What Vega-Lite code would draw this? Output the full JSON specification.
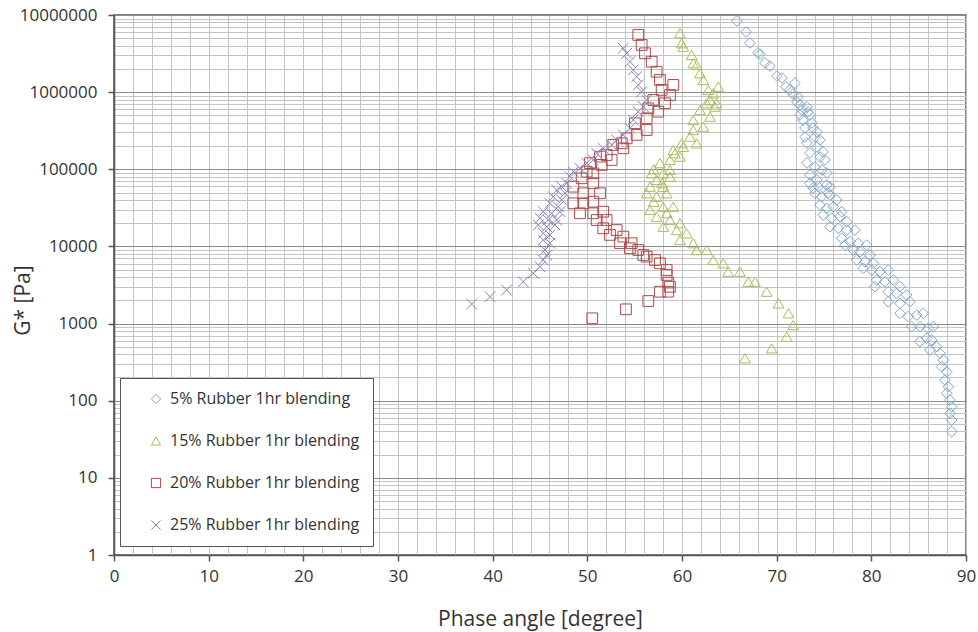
{
"$schema":"https://vega.github.io/schema/vega-lite/v6.json",
"width":852,"height":540,
"autosize":{"type":"none"},
"padding":{"left":114,"top":15,"right":12,"bottom":77},
"background":"white",
"config":{
 "font":"Open Sans",
 "view":{"stroke":"#555555","strokeWidth":1.5},
 "axis":{"labelFont":"Open Sans","titleFont":"Open Sans","labelColor":"#333333","titleColor":"#333333","titleFontWeight":"normal","domainColor":"#555555","domainWidth":1.5,"tickColor":"#555555","tickWidth":1.5}
},
"data":{"values":[
{"series":"5% Rubber 1hr blending","phase":65.81,"gstar":8360000},
{"series":"5% Rubber 1hr blending","phase":66.76,"gstar":6030000},
{"series":"5% Rubber 1hr blending","phase":67.18,"gstar":4340000},
{"series":"5% Rubber 1hr blending","phase":68.03,"gstar":3220000},
{"series":"5% Rubber 1hr blending","phase":68.24,"gstar":3100000},
{"series":"5% Rubber 1hr blending","phase":68.77,"gstar":2390000},
{"series":"5% Rubber 1hr blending","phase":69.29,"gstar":2180000},
{"series":"5% Rubber 1hr blending","phase":70.03,"gstar":1620000},
{"series":"5% Rubber 1hr blending","phase":70.56,"gstar":1530000},
{"series":"5% Rubber 1hr blending","phase":70.98,"gstar":1170000},
{"series":"5% Rubber 1hr blending","phase":71.40,"gstar":1070000},
{"series":"5% Rubber 1hr blending","phase":71.93,"gstar":1310000},
{"series":"5% Rubber 1hr blending","phase":71.72,"gstar":947000},
{"series":"5% Rubber 1hr blending","phase":72.25,"gstar":865000},
{"series":"5% Rubber 1hr blending","phase":72.15,"gstar":745000},
{"series":"5% Rubber 1hr blending","phase":72.47,"gstar":682000},
{"series":"5% Rubber 1hr blending","phase":73.20,"gstar":642000},
{"series":"5% Rubber 1hr blending","phase":72.68,"gstar":587000},
{"series":"5% Rubber 1hr blending","phase":73.31,"gstar":553000},
{"series":"5% Rubber 1hr blending","phase":72.47,"gstar":506000},
{"series":"5% Rubber 1hr blending","phase":73.52,"gstar":506000},
{"series":"5% Rubber 1hr blending","phase":72.78,"gstar":436000},
{"series":"5% Rubber 1hr blending","phase":73.73,"gstar":398000},
{"series":"5% Rubber 1hr blending","phase":72.99,"gstar":343000},
{"series":"5% Rubber 1hr blending","phase":73.84,"gstar":343000},
{"series":"5% Rubber 1hr blending","phase":74.26,"gstar":305000},
{"series":"5% Rubber 1hr blending","phase":72.99,"gstar":262000},
{"series":"5% Rubber 1hr blending","phase":74.05,"gstar":262000},
{"series":"5% Rubber 1hr blending","phase":74.58,"gstar":240000},
{"series":"5% Rubber 1hr blending","phase":73.20,"gstar":219000},
{"series":"5% Rubber 1hr blending","phase":74.26,"gstar":195000},
{"series":"5% Rubber 1hr blending","phase":74.89,"gstar":168000},
{"series":"5% Rubber 1hr blending","phase":73.52,"gstar":163000},
{"series":"5% Rubber 1hr blending","phase":74.58,"gstar":144000},
{"series":"5% Rubber 1hr blending","phase":75.10,"gstar":132000},
{"series":"5% Rubber 1hr blending","phase":73.20,"gstar":121000},
{"series":"5% Rubber 1hr blending","phase":74.05,"gstar":107000},
{"series":"5% Rubber 1hr blending","phase":74.79,"gstar":98000},
{"series":"5% Rubber 1hr blending","phase":75.31,"gstar":89600},
{"series":"5% Rubber 1hr blending","phase":73.52,"gstar":84400},
{"series":"5% Rubber 1hr blending","phase":74.26,"gstar":72700},
{"series":"5% Rubber 1hr blending","phase":75.63,"gstar":59000},
{"series":"5% Rubber 1hr blending","phase":73.84,"gstar":57300},
{"series":"5% Rubber 1hr blending","phase":75.42,"gstar":49300},
{"series":"5% Rubber 1hr blending","phase":73.52,"gstar":65900},
{"series":"5% Rubber 1hr blending","phase":74.40,"gstar":59500},
{"series":"5% Rubber 1hr blending","phase":75.28,"gstar":62600},
{"series":"5% Rubber 1hr blending","phase":74.05,"gstar":48900},
{"series":"5% Rubber 1hr blending","phase":74.75,"gstar":44200},
{"series":"5% Rubber 1hr blending","phase":75.63,"gstar":46400},
{"series":"5% Rubber 1hr blending","phase":76.34,"gstar":40000},
{"series":"5% Rubber 1hr blending","phase":74.58,"gstar":34400},
{"series":"5% Rubber 1hr blending","phase":75.28,"gstar":31200},
{"series":"5% Rubber 1hr blending","phase":75.98,"gstar":32700},
{"series":"5% Rubber 1hr blending","phase":76.87,"gstar":28200},
{"series":"5% Rubber 1hr blending","phase":74.92,"gstar":25600},
{"series":"5% Rubber 1hr blending","phase":75.81,"gstar":23200},
{"series":"5% Rubber 1hr blending","phase":76.69,"gstar":24300},
{"series":"5% Rubber 1hr blending","phase":77.40,"gstar":20900},
{"series":"5% Rubber 1hr blending","phase":75.63,"gstar":18000},
{"series":"5% Rubber 1hr blending","phase":76.51,"gstar":17200},
{"series":"5% Rubber 1hr blending","phase":77.40,"gstar":16300},
{"series":"5% Rubber 1hr blending","phase":78.27,"gstar":16300},
{"series":"5% Rubber 1hr blending","phase":76.87,"gstar":12800},
{"series":"5% Rubber 1hr blending","phase":77.75,"gstar":11500},
{"series":"5% Rubber 1hr blending","phase":78.62,"gstar":11000},
{"series":"5% Rubber 1hr blending","phase":79.51,"gstar":10400},
{"series":"5% Rubber 1hr blending","phase":77.22,"gstar":10400},
{"series":"5% Rubber 1hr blending","phase":78.09,"gstar":8990},
{"series":"5% Rubber 1hr blending","phase":78.80,"gstar":8550},
{"series":"5% Rubber 1hr blending","phase":79.86,"gstar":7740},
{"series":"5% Rubber 1hr blending","phase":78.45,"gstar":6670},
{"series":"5% Rubber 1hr blending","phase":79.33,"gstar":6340},
{"series":"5% Rubber 1hr blending","phase":80.21,"gstar":6040},
{"series":"5% Rubber 1hr blending","phase":79.15,"gstar":5200},
{"series":"5% Rubber 1hr blending","phase":80.04,"gstar":4950},
{"series":"5% Rubber 1hr blending","phase":80.91,"gstar":4710},
{"series":"5% Rubber 1hr blending","phase":81.79,"gstar":4950},
{"series":"5% Rubber 1hr blending","phase":80.56,"gstar":3670},
{"series":"5% Rubber 1hr blending","phase":81.44,"gstar":3490},
{"series":"5% Rubber 1hr blending","phase":82.32,"gstar":3670},
{"series":"5% Rubber 1hr blending","phase":83.03,"gstar":3010},
{"series":"5% Rubber 1hr blending","phase":80.38,"gstar":3010},
{"series":"5% Rubber 1hr blending","phase":81.79,"gstar":2590},
{"series":"5% Rubber 1hr blending","phase":82.68,"gstar":2470},
{"series":"5% Rubber 1hr blending","phase":83.73,"gstar":2350},
{"series":"5% Rubber 1hr blending","phase":81.79,"gstar":1920},
{"series":"5% Rubber 1hr blending","phase":83.03,"gstar":1830},
{"series":"5% Rubber 1hr blending","phase":84.08,"gstar":1920},
{"series":"5% Rubber 1hr blending","phase":83.03,"gstar":1360},
{"series":"5% Rubber 1hr blending","phase":83.90,"gstar":1230},
{"series":"5% Rubber 1hr blending","phase":84.79,"gstar":1290},
{"series":"5% Rubber 1hr blending","phase":85.49,"gstar":1360},
{"series":"5% Rubber 1hr blending","phase":84.26,"gstar":912},
{"series":"5% Rubber 1hr blending","phase":85.14,"gstar":912},
{"series":"5% Rubber 1hr blending","phase":86.01,"gstar":869},
{"series":"5% Rubber 1hr blending","phase":86.54,"gstar":912},
{"series":"5% Rubber 1hr blending","phase":85.14,"gstar":582},
{"series":"5% Rubber 1hr blending","phase":85.85,"gstar":644},
{"series":"5% Rubber 1hr blending","phase":86.37,"gstar":612},
{"series":"5% Rubber 1hr blending","phase":86.90,"gstar":501},
{"series":"5% Rubber 1hr blending","phase":86.19,"gstar":454},
{"series":"5% Rubber 1hr blending","phase":87.25,"gstar":412},
{"series":"5% Rubber 1hr blending","phase":87.60,"gstar":337},
{"series":"5% Rubber 1hr blending","phase":87.43,"gstar":276},
{"series":"5% Rubber 1hr blending","phase":87.96,"gstar":238},
{"series":"5% Rubber 1hr blending","phase":87.78,"gstar":186},
{"series":"5% Rubber 1hr blending","phase":88.13,"gstar":152},
{"series":"5% Rubber 1hr blending","phase":87.96,"gstar":125},
{"series":"5% Rubber 1hr blending","phase":88.31,"gstar":102},
{"series":"5% Rubber 1hr blending","phase":88.49,"gstar":83.6},
{"series":"5% Rubber 1hr blending","phase":88.31,"gstar":68.7},
{"series":"5% Rubber 1hr blending","phase":88.49,"gstar":56.2},
{"series":"5% Rubber 1hr blending","phase":88.49,"gstar":39.7},
{"series":"15% Rubber 1hr blending","phase":59.79,"gstar":5800000},
{"series":"15% Rubber 1hr blending","phase":59.97,"gstar":4300000},
{"series":"15% Rubber 1hr blending","phase":60.14,"gstar":3880000},
{"series":"15% Rubber 1hr blending","phase":61.02,"gstar":3030000},
{"series":"15% Rubber 1hr blending","phase":61.19,"gstar":2370000},
{"series":"15% Rubber 1hr blending","phase":61.55,"gstar":2250000},
{"series":"15% Rubber 1hr blending","phase":61.90,"gstar":1760000},
{"series":"15% Rubber 1hr blending","phase":62.25,"gstar":1440000},
{"series":"15% Rubber 1hr blending","phase":63.83,"gstar":1180000},
{"series":"15% Rubber 1hr blending","phase":62.78,"gstar":1070000},
{"series":"15% Rubber 1hr blending","phase":63.30,"gstar":967000},
{"series":"15% Rubber 1hr blending","phase":62.96,"gstar":785000},
{"series":"15% Rubber 1hr blending","phase":62.61,"gstar":718000},
{"series":"15% Rubber 1hr blending","phase":63.66,"gstar":718000},
{"series":"15% Rubber 1hr blending","phase":63.48,"gstar":649000},
{"series":"15% Rubber 1hr blending","phase":61.90,"gstar":587000},
{"series":"15% Rubber 1hr blending","phase":62.96,"gstar":481000},
{"series":"15% Rubber 1hr blending","phase":61.19,"gstar":436000},
{"series":"15% Rubber 1hr blending","phase":62.25,"gstar":357000},
{"series":"15% Rubber 1hr blending","phase":61.19,"gstar":323000},
{"series":"15% Rubber 1hr blending","phase":60.85,"gstar":265000},
{"series":"15% Rubber 1hr blending","phase":61.55,"gstar":217000},
{"series":"15% Rubber 1hr blending","phase":59.97,"gstar":217000},
{"series":"15% Rubber 1hr blending","phase":60.14,"gstar":196000},
{"series":"15% Rubber 1hr blending","phase":59.08,"gstar":178000},
{"series":"15% Rubber 1hr blending","phase":59.26,"gstar":161000},
{"series":"15% Rubber 1hr blending","phase":59.79,"gstar":146000},
{"series":"15% Rubber 1hr blending","phase":58.73,"gstar":132000},
{"series":"15% Rubber 1hr blending","phase":57.67,"gstar":120000},
{"series":"15% Rubber 1hr blending","phase":57.00,"gstar":100000},
{"series":"15% Rubber 1hr blending","phase":58.73,"gstar":98000},
{"series":"15% Rubber 1hr blending","phase":56.80,"gstar":88700},
{"series":"15% Rubber 1hr blending","phase":58.02,"gstar":88700},
{"series":"15% Rubber 1hr blending","phase":58.73,"gstar":80200},
{"series":"15% Rubber 1hr blending","phase":57.32,"gstar":72700},
{"series":"15% Rubber 1hr blending","phase":57.90,"gstar":66000},
{"series":"15% Rubber 1hr blending","phase":56.62,"gstar":59500},
{"series":"15% Rubber 1hr blending","phase":58.02,"gstar":59500},
{"series":"15% Rubber 1hr blending","phase":56.27,"gstar":48900},
{"series":"15% Rubber 1hr blending","phase":58.38,"gstar":48900},
{"series":"15% Rubber 1hr blending","phase":57.32,"gstar":44200},
{"series":"15% Rubber 1hr blending","phase":57.00,"gstar":38000},
{"series":"15% Rubber 1hr blending","phase":58.02,"gstar":32700},
{"series":"15% Rubber 1hr blending","phase":59.08,"gstar":32700},
{"series":"15% Rubber 1hr blending","phase":56.62,"gstar":29700},
{"series":"15% Rubber 1hr blending","phase":58.40,"gstar":27000},
{"series":"15% Rubber 1hr blending","phase":57.32,"gstar":24300},
{"series":"15% Rubber 1hr blending","phase":58.73,"gstar":22000},
{"series":"15% Rubber 1hr blending","phase":59.79,"gstar":20000},
{"series":"15% Rubber 1hr blending","phase":58.02,"gstar":18000},
{"series":"15% Rubber 1hr blending","phase":59.44,"gstar":16300},
{"series":"15% Rubber 1hr blending","phase":60.49,"gstar":14800},
{"series":"15% Rubber 1hr blending","phase":59.79,"gstar":12100},
{"series":"15% Rubber 1hr blending","phase":61.19,"gstar":11000},
{"series":"15% Rubber 1hr blending","phase":61.55,"gstar":9000},
{"series":"15% Rubber 1hr blending","phase":62.61,"gstar":9000},
{"series":"15% Rubber 1hr blending","phase":63.30,"gstar":6670},
{"series":"15% Rubber 1hr blending","phase":64.36,"gstar":6040},
{"series":"15% Rubber 1hr blending","phase":64.89,"gstar":4710},
{"series":"15% Rubber 1hr blending","phase":66.12,"gstar":4710},
{"series":"15% Rubber 1hr blending","phase":67.00,"gstar":3490},
{"series":"15% Rubber 1hr blending","phase":67.71,"gstar":3490},
{"series":"15% Rubber 1hr blending","phase":68.94,"gstar":2590},
{"series":"15% Rubber 1hr blending","phase":70.20,"gstar":1830},
{"series":"15% Rubber 1hr blending","phase":71.25,"gstar":1360},
{"series":"15% Rubber 1hr blending","phase":71.76,"gstar":959},
{"series":"15% Rubber 1hr blending","phase":71.06,"gstar":676},
{"series":"15% Rubber 1hr blending","phase":69.47,"gstar":478},
{"series":"15% Rubber 1hr blending","phase":66.65,"gstar":355},
{"series":"20% Rubber 1hr blending","phase":55.38,"gstar":5510000},
{"series":"20% Rubber 1hr blending","phase":55.74,"gstar":4090000},
{"series":"20% Rubber 1hr blending","phase":56.09,"gstar":3190000},
{"series":"20% Rubber 1hr blending","phase":56.80,"gstar":2480000},
{"series":"20% Rubber 1hr blending","phase":57.32,"gstar":1840000},
{"series":"20% Rubber 1hr blending","phase":57.67,"gstar":1440000},
{"series":"20% Rubber 1hr blending","phase":59.08,"gstar":1240000},
{"series":"20% Rubber 1hr blending","phase":57.85,"gstar":1070000},
{"series":"20% Rubber 1hr blending","phase":58.73,"gstar":918000},
{"series":"20% Rubber 1hr blending","phase":56.97,"gstar":791000},
{"series":"20% Rubber 1hr blending","phase":58.20,"gstar":718000},
{"series":"20% Rubber 1hr blending","phase":56.44,"gstar":618000},
{"series":"20% Rubber 1hr blending","phase":57.49,"gstar":558000},
{"series":"20% Rubber 1hr blending","phase":56.27,"gstar":458000},
{"series":"20% Rubber 1hr blending","phase":55.03,"gstar":395000},
{"series":"20% Rubber 1hr blending","phase":56.27,"gstar":323000},
{"series":"20% Rubber 1hr blending","phase":55.21,"gstar":279000},
{"series":"20% Rubber 1hr blending","phase":54.16,"gstar":252000},
{"series":"20% Rubber 1hr blending","phase":53.63,"gstar":217000},
{"series":"20% Rubber 1hr blending","phase":52.74,"gstar":207000},
{"series":"20% Rubber 1hr blending","phase":53.80,"gstar":187000},
{"series":"20% Rubber 1hr blending","phase":52.04,"gstar":153000},
{"series":"20% Rubber 1hr blending","phase":51.34,"gstar":146000},
{"series":"20% Rubber 1hr blending","phase":52.57,"gstar":132000},
{"series":"20% Rubber 1hr blending","phase":50.28,"gstar":120000},
{"series":"20% Rubber 1hr blending","phase":51.52,"gstar":114000},
{"series":"20% Rubber 1hr blending","phase":49.93,"gstar":93100},
{"series":"20% Rubber 1hr blending","phase":50.63,"gstar":88700},
{"series":"20% Rubber 1hr blending","phase":49.40,"gstar":76400},
{"series":"20% Rubber 1hr blending","phase":50.63,"gstar":65900},
{"series":"20% Rubber 1hr blending","phase":48.52,"gstar":59500},
{"series":"20% Rubber 1hr blending","phase":49.57,"gstar":48900},
{"series":"20% Rubber 1hr blending","phase":51.34,"gstar":48900},
{"series":"20% Rubber 1hr blending","phase":48.52,"gstar":36200},
{"series":"20% Rubber 1hr blending","phase":49.57,"gstar":36200},
{"series":"20% Rubber 1hr blending","phase":50.63,"gstar":38000},
{"series":"20% Rubber 1hr blending","phase":49.22,"gstar":26900},
{"series":"20% Rubber 1hr blending","phase":50.63,"gstar":26900},
{"series":"20% Rubber 1hr blending","phase":51.68,"gstar":28200},
{"series":"20% Rubber 1hr blending","phase":50.99,"gstar":22000},
{"series":"20% Rubber 1hr blending","phase":52.04,"gstar":22000},
{"series":"20% Rubber 1hr blending","phase":51.68,"gstar":17200},
{"series":"20% Rubber 1hr blending","phase":53.10,"gstar":16300},
{"series":"20% Rubber 1hr blending","phase":52.39,"gstar":14100},
{"series":"20% Rubber 1hr blending","phase":53.80,"gstar":13400},
{"series":"20% Rubber 1hr blending","phase":53.45,"gstar":11000},
{"series":"20% Rubber 1hr blending","phase":54.68,"gstar":11000},
{"series":"20% Rubber 1hr blending","phase":54.50,"gstar":9460},
{"series":"20% Rubber 1hr blending","phase":55.38,"gstar":9000},
{"series":"20% Rubber 1hr blending","phase":55.91,"gstar":7740},
{"series":"20% Rubber 1hr blending","phase":56.27,"gstar":7360},
{"series":"20% Rubber 1hr blending","phase":57.15,"gstar":6670},
{"series":"20% Rubber 1hr blending","phase":57.67,"gstar":6040},
{"series":"20% Rubber 1hr blending","phase":58.38,"gstar":4950},
{"series":"20% Rubber 1hr blending","phase":58.38,"gstar":4270},
{"series":"20% Rubber 1hr blending","phase":58.55,"gstar":3400},
{"series":"20% Rubber 1hr blending","phase":58.73,"gstar":3000},
{"series":"20% Rubber 1hr blending","phase":58.55,"gstar":2590},
{"series":"20% Rubber 1hr blending","phase":57.67,"gstar":2590},
{"series":"20% Rubber 1hr blending","phase":56.44,"gstar":1960},
{"series":"20% Rubber 1hr blending","phase":54.08,"gstar":1530},
{"series":"20% Rubber 1hr blending","phase":50.52,"gstar":1170},
{"series":"25% Rubber 1hr blending","phase":53.80,"gstar":3700000},
{"series":"25% Rubber 1hr blending","phase":54.16,"gstar":3190000},
{"series":"25% Rubber 1hr blending","phase":54.50,"gstar":2480000},
{"series":"25% Rubber 1hr blending","phase":54.85,"gstar":1940000},
{"series":"25% Rubber 1hr blending","phase":55.21,"gstar":1590000},
{"series":"25% Rubber 1hr blending","phase":55.38,"gstar":1240000},
{"series":"25% Rubber 1hr blending","phase":55.74,"gstar":1010000},
{"series":"25% Rubber 1hr blending","phase":56.27,"gstar":791000},
{"series":"25% Rubber 1hr blending","phase":55.91,"gstar":649000},
{"series":"25% Rubber 1hr blending","phase":55.38,"gstar":558000},
{"series":"25% Rubber 1hr blending","phase":54.85,"gstar":436000},
{"series":"25% Rubber 1hr blending","phase":54.50,"gstar":340000},
{"series":"25% Rubber 1hr blending","phase":53.80,"gstar":279000},
{"series":"25% Rubber 1hr blending","phase":53.10,"gstar":240000},
{"series":"25% Rubber 1hr blending","phase":52.57,"gstar":207000},
{"series":"25% Rubber 1hr blending","phase":51.68,"gstar":187000},
{"series":"25% Rubber 1hr blending","phase":50.99,"gstar":161000},
{"series":"25% Rubber 1hr blending","phase":50.63,"gstar":132000},
{"series":"25% Rubber 1hr blending","phase":49.93,"gstar":120000},
{"series":"25% Rubber 1hr blending","phase":49.22,"gstar":103000},
{"series":"25% Rubber 1hr blending","phase":48.52,"gstar":93100},
{"series":"25% Rubber 1hr blending","phase":48.17,"gstar":80200},
{"series":"25% Rubber 1hr blending","phase":47.82,"gstar":65900},
{"series":"25% Rubber 1hr blending","phase":47.29,"gstar":59500},
{"series":"25% Rubber 1hr blending","phase":46.76,"gstar":53900},
{"series":"25% Rubber 1hr blending","phase":47.64,"gstar":48900},
{"series":"25% Rubber 1hr blending","phase":46.40,"gstar":44200},
{"series":"25% Rubber 1hr blending","phase":47.29,"gstar":40000},
{"series":"25% Rubber 1hr blending","phase":46.05,"gstar":36200},
{"series":"25% Rubber 1hr blending","phase":46.93,"gstar":32700},
{"series":"25% Rubber 1hr blending","phase":45.35,"gstar":28200},
{"series":"25% Rubber 1hr blending","phase":46.23,"gstar":26900},
{"series":"25% Rubber 1hr blending","phase":47.11,"gstar":28200},
{"series":"25% Rubber 1hr blending","phase":45.00,"gstar":23200},
{"series":"25% Rubber 1hr blending","phase":45.87,"gstar":22000},
{"series":"25% Rubber 1hr blending","phase":46.76,"gstar":22000},
{"series":"25% Rubber 1hr blending","phase":44.82,"gstar":19000},
{"series":"25% Rubber 1hr blending","phase":45.71,"gstar":18000},
{"series":"25% Rubber 1hr blending","phase":46.58,"gstar":19000},
{"series":"25% Rubber 1hr blending","phase":45.35,"gstar":14800},
{"series":"25% Rubber 1hr blending","phase":46.05,"gstar":14100},
{"series":"25% Rubber 1hr blending","phase":45.35,"gstar":12100},
{"series":"25% Rubber 1hr blending","phase":46.05,"gstar":11000},
{"series":"25% Rubber 1hr blending","phase":45.53,"gstar":9000},
{"series":"25% Rubber 1hr blending","phase":45.71,"gstar":7740},
{"series":"25% Rubber 1hr blending","phase":45.35,"gstar":6670},
{"series":"25% Rubber 1hr blending","phase":45.00,"gstar":5460},
{"series":"25% Rubber 1hr blending","phase":44.29,"gstar":4490},
{"series":"25% Rubber 1hr blending","phase":43.23,"gstar":3490},
{"series":"25% Rubber 1hr blending","phase":41.48,"gstar":2720},
{"series":"25% Rubber 1hr blending","phase":39.72,"gstar":2230},
{"series":"25% Rubber 1hr blending","phase":37.78,"gstar":1790}
]},
"mark":{"type":"point","filled":false,"strokeWidth":1,"size":115,"opacity":1},
"encoding":{
 "x":{"field":"phase","type":"quantitative","scale":{"domain":[0,90],"nice":false,"zero":false},
  "axis":{"title":"Phase angle [degree]",
   "values":[0,2,4,6,8,10,12,14,16,18,20,22,24,26,28,30,32,34,36,38,40,42,44,46,48,50,52,54,56,58,60,62,64,66,68,70,72,74,76,78,80,82,84,86,88,90],
   "labelExpr":"datum.value % 10 === 0 ? format(datum.value, 'd') : ''",
   "tickOpacity":{"condition":{"test":"datum.value % 10 === 0","value":1},"value":0},
   "tickSize":6,"labelFontSize":17,"labelPadding":7,"labelOverlap":false,"labelFlush":false,"labelBound":false,
   "grid":true,"gridColor":"#c4c4c4","gridWidth":1,
   "titleFontSize":21,"titleY":64,"titleBaseline":"middle"}},
 "y":{"field":"gstar","type":"quantitative","scale":{"type":"log","domain":[1,10000000],"nice":false},
  "axis":{"title":"G* [Pa]",
   "values":[1,2,3,4,5,6,7,8,9,10,20,30,40,50,60,70,80,90,100,200,300,400,500,600,700,800,900,1000,2000,3000,4000,5000,6000,7000,8000,9000,10000,20000,30000,40000,50000,60000,70000,80000,90000,100000,200000,300000,400000,500000,600000,700000,800000,900000,1000000,2000000,3000000,4000000,5000000,6000000,7000000,8000000,9000000,10000000],
   "labelExpr":"abs(log(datum.value)/LN10 - round(log(datum.value)/LN10)) < 0.000001 ? format(datum.value, 'd') : ''",
   "tickOpacity":{"condition":{"test":"abs(log(datum.value)/LN10 - round(log(datum.value)/LN10)) < 0.000001","value":1},"value":0},
   "gridColor":{"condition":{"test":"abs(log(datum.value)/LN10 - round(log(datum.value)/LN10)) < 0.000001","value":"#8c8c8c"},"value":"#c4c4c4"},
   "grid":true,"gridWidth":1,
   "tickSize":6,"labelFontSize":17,"labelPadding":11,"labelOverlap":false,"labelFlush":false,"labelBound":false,
   "titleFontSize":21,"titleX":-91,"titleY":285,"titleBaseline":"middle","titleAlign":"center","titleAngle":-90}},
 "color":{"field":"series","type":"nominal",
  "scale":{"domain":["5% Rubber 1hr blending","15% Rubber 1hr blending","20% Rubber 1hr blending","25% Rubber 1hr blending"],
   "range":["#7fa6cc","#a9bd5c","#b04848","#8a7fb6"]},
  "legend":{"title":null,"orient":"none","legendX":6,"legendY":363,"padding":13,"symbolOffset":15,"rowPadding":26,"labelFontSize":16,"labelFont":"Open Sans","labelColor":"#333333","labelLimit":400,"strokeColor":"#555555","fillColor":"white","symbolSize":85,"symbolStrokeWidth":1,"labelOffset":6}},
 "shape":{"field":"series","type":"nominal",
  "scale":{"domain":["5% Rubber 1hr blending","15% Rubber 1hr blending","20% Rubber 1hr blending","25% Rubber 1hr blending"],
   "range":["diamond","triangle-up","square","M-1,-1L1,1M-1,1L1,-1"]},
  "legend":{"title":null,"orient":"none","legendX":6,"legendY":363,"padding":13,"symbolOffset":15,"rowPadding":26,"labelFontSize":16,"labelFont":"Open Sans","labelColor":"#333333","labelLimit":400,"strokeColor":"#555555","fillColor":"white","symbolSize":85,"symbolStrokeWidth":1,"labelOffset":6}}
}
}
